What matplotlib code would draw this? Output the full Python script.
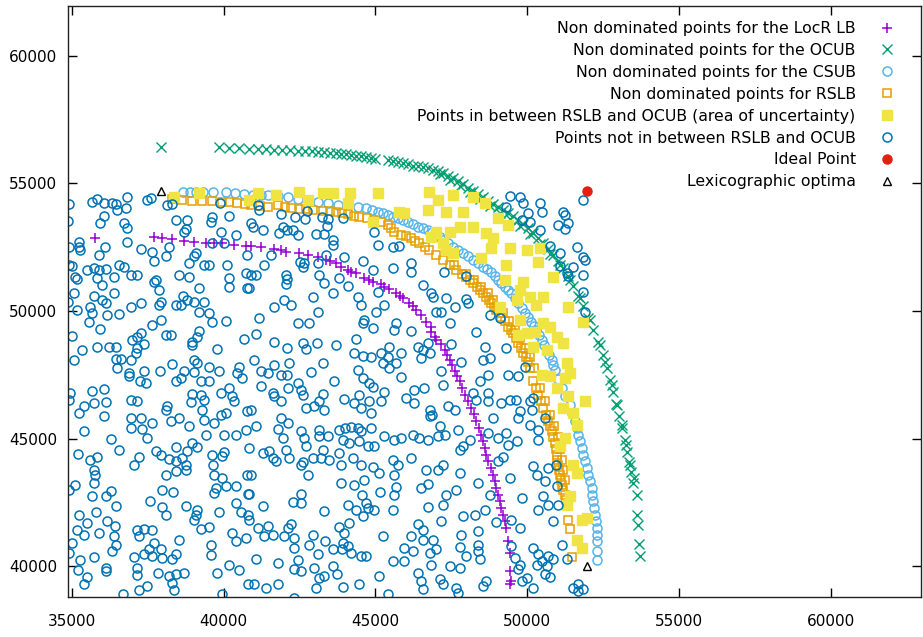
import matplotlib.pyplot as plt

# Non dominated points for the LocR lower bound
locr = [(35752, 52875), (37698, 52890), (37975, 52851), (38305, 52812), (38687, 52757), (39017, 52718),
        (39403, 52679), (39677, 52679), (39954, 52655), (40336, 52589), (40722, 52550), (40897, 52550),
        (41227, 52499), (41669, 52421), (41886, 52393), (42051, 52327), (42493, 52287), (42767, 52197),
        (43097, 52107), (43370, 52002), (43500, 51950), (43700, 51872), (43865, 51739), (44086, 51610),
        (44200, 51550), (44360, 51481), (44637, 51285), (44800, 51200), (44911, 51152), (45184, 51062),
        (45300, 50950), (45461, 50855), (45679, 50698), (45800, 50600), (45900, 50502), (46121, 50306),
        (46230, 50180), (46339, 50044), (46503, 49848), (46668, 49586), (46846, 49390), (46833, 49195),
        (46950, 49000), (47011, 48870), (47150, 48700), (47285, 48478), (47370, 48280), (47450, 48087),
        (47530, 47870), (47615, 47644), (47700, 47450), (47780, 47253), (47860, 46980), (47945, 46728),
        (48050, 46470), (48166, 46207), (48250, 45950), (48331, 45687), (48410, 45420), (48496, 45162),
        (48550, 44900), (48604, 44641), (48660, 44380), (48713, 44121), (48800, 43860), (48878, 43596),
        (48930, 43330), (48990, 43075), (49050, 42800), (49099, 42555), (49150, 42290), (49208, 42030),
        (49260, 41770), (49320, 41509), (49373, 40989), (49429, 40531), (49429, 39814), (49485, 39423),
        (49429, 39290)]

# Non dominated points for the OCUB
ocub = [(37919, 56437), (39841, 56437), (40171, 56375), (40501, 56375), (40821, 56367), (41118, 56347),
        (41382, 56347), (41645, 56328), (41909, 56308), (42173, 56308), (42437, 56289), (42668, 56269),
        (42899, 56269), (43097, 56249), (43294, 56230), (43492, 56210), (43690, 56191), (43855, 56171),
        (44020, 56152), (44185, 56112), (44350, 56093), (44515, 56073), (44680, 56034), (44845, 55995),
        (44976, 55956), (45405, 55917), (45570, 55878), (45735, 55838), (45900, 55799), (46065, 55760),
        (46230, 55701), (46395, 55682), (46560, 55643), (46724, 55603), (46889, 55545), (47054, 55486),
        (47219, 55408), (47384, 55310), (47549, 55212), (47714, 55095), (47879, 54977), (48044, 54840),
        (48208, 54703), (48373, 54586), (48538, 54449), (48703, 54312), (48868, 54194), (49033, 54077),
        (49198, 53940), (49363, 53842), (49528, 53724), (49693, 53568), (49858, 53411), (50022, 53255),
        (50187, 53059), (50352, 52863), (50517, 52667), (50682, 52432), (50847, 52197), (51012, 51962),
        (51177, 51688), (51342, 51375), (51506, 50984), (51671, 50592), (51836, 50201), (52001, 49731),
        (52166, 49261), (52331, 48791), (52496, 48282), (52628, 47773), (52727, 47304), (52826, 46834),
        (52925, 46364), (53024, 45894), (53123, 45424), (53222, 44955), (53288, 44485), (53354, 44093),
        (53420, 43702), (53485, 43271), (53607, 42813), (53607, 42030), (53660, 41639), (53693, 40883),
        (53716, 40402),
        (47120, 55369), (47450, 55134), (47780, 54899), (48110, 54664), (48439, 54390), (48769, 54116),
        (49099, 53842), (49429, 53607), (49759, 53333), (50088, 53020), (50418, 52628), (50748, 52237),
        (51078, 51806), (51408, 51219), (51737, 50514), (52067, 49653), (52397, 48674), (52562, 48008),
        (52793, 47108), (52958, 46325), (53123, 45542), (53254, 44759), (53386, 43976), (53518, 43467)]

# Non dominated points for the CSUB
csub = [(38644, 54676), (38875, 54676), (39073, 54676), (39304, 54676), (39634, 54676), (40063, 54676),
        (40359, 54644), (40656, 54605), (40953, 54546), (41217, 54546), (41448, 54546), (41777, 54507),
        (42107, 54480), (42437, 54409), (42823, 54351), (43097, 54284), (43426, 54221), (43756, 54155),
        (44086, 54221), (44416, 54088), (44690, 54026), (44878, 53959), (45075, 53893), (45240, 53830),
        (45405, 53763), (45570, 53697), (45735, 53634), (45900, 53568), (46065, 53501), (46230, 53411),
        (46395, 53306), (46560, 53242), (46725, 53176), (46857, 53098), (47011, 52980), (47120, 52882),
        (47229, 52785), (47384, 52667), (47559, 52522), (47714, 52393), (47889, 52264), (48044, 52139),
        (48219, 52002), (48374, 51884), (48548, 51739), (48687, 51649), (48825, 51544), (48934, 51375),
        (49043, 51219), (49155, 51089), (49264, 50956), (49373, 50827), (49485, 50698), (49594, 50514),
        (49703, 50306), (49815, 50111), (49924, 49915), (50033, 49751), (50144, 49586), (50220, 49418),
        (50309, 49261), (50385, 49065), (50474, 48870), (50550, 48674), (50639, 48478), (50715, 48282),
        (50804, 48087), (50857, 47871), (50913, 47695), (51012, 47343), (51134, 46990), (51243, 46677),
        (51408, 46336), (51490, 46012), (51573, 45687), (51629, 45425), (51682, 45162), (51738, 44904),
        (51794, 44641), (51847, 44379), (51903, 44121), (51959, 43858), (52012, 43596), (52068, 43338),
        (52124, 43075), (52150, 42813), (52176, 42555), (52199, 42292), (52232, 42030), (52265, 41771),
        (52288, 41509), (52288, 41235), (52288, 40989), (52288, 40597), (52308, 40268)]

# Non dominated points for RSLB
rslb = [(38305, 54378), (38611, 54351), (38964, 54323), (39294, 54323), (39624, 54323), (39930, 54292),
        (40161, 54272), (40448, 54245), (40689, 54194), (40897, 54155), (41184, 54116), (41448, 54088),
        (41777, 54155), (42008, 54076), (42216, 54026), (42503, 53998), (42701, 53979), (42932, 53959),
        (43262, 53932), (43492, 53920), (43700, 53893), (43888, 53842), (44086, 53803), (44284, 53724),
        (44472, 53673), (44712, 53627), (44966, 53568), (45174, 53489), (45405, 53372), (45504, 53254),
        (45626, 53110), (45844, 52980), (45999, 52922), (46173, 52851), (46296, 52746), (46451, 52655),
        (46626, 52511), (46781, 52393), (46989, 52197), (47229, 51998), (47450, 51806), (47671, 51610),
        (47846, 51454), (48001, 51348), (48110, 51219), (48219, 51089), (48340, 50944), (48439, 50827),
        (48538, 50710), (48660, 50565), (48736, 50436), (48825, 50307), (48901, 50162), (48990, 50044),
        (49066, 49927), (49155, 49782), (49264, 49614), (49373, 49391), (49462, 49261), (49538, 49132),
        (49627, 48948), (49703, 48740), (49792, 48556), (49868, 48349), (49957, 48204), (50033, 48020),
        (50088, 47774), (50197, 47253), (50286, 46990), (50362, 46728), (50451, 46481), (50527, 46208),
        (50616, 45934), (50692, 45687), (50748, 45503), (50804, 45295), (50863, 45072), (50913, 44837),
        (50946, 44602), (50969, 44379), (50996, 44171), (51022, 43988), (51045, 43780), (51078, 43596),
        (51111, 43389), (51134, 43205), (51177, 42997), (51243, 42813), (51276, 42605), (51299, 42421),
        (51352, 41834), (51408, 41458), (51464, 40362),
        (47600, 51806), (47996, 51454), (48260, 51219), (48490, 50944), (48700, 50710), (48886, 50436),
        (49051, 50162), (49216, 49927), (49414, 49614), (49612, 49261), (49777, 48948), (49942, 48556),
        (50107, 48204), (50238, 47774), (50436, 46990), (50601, 46481), (50766, 45934), (50898, 45503),
        (51013, 45072), (51096, 44602), (51146, 44171), (51195, 43780), (51261, 43389)]

# Points in between RSLB and OCUB (area of uncertainty)
between = [(38357, 54456), (39182, 54636), (40831, 54351), (41118, 54613), (41721, 54546), (42493, 54676),
           (42767, 54351), (43271, 54613), (43601, 54613), (44152, 54613), (44086, 54221), (45085, 54613),
           (44911, 53501), (45791, 53893), (45956, 53830), (46780, 54676), (46724, 53959), (47064, 54351),
           (47559, 54546), (48218, 54480), (48604, 54221), (47341, 53893), (47889, 53893), (47780, 53305),
           (48218, 53305), (47450, 53110), (47011, 53110), (46846, 52914), (48660, 53047), (48878, 52851),
           (49043, 53634), (49373, 53372), (48825, 52460), (49429, 52460), (49980, 52393), (50418, 52460),
           (50362, 51935), (48496, 52068), (49320, 51806), (47341, 52393), (47559, 52264), (47229, 52655),
           (50857, 51348), (49867, 51152), (49264, 51219), (49759, 50827), (50088, 50565), (50527, 50565),
           (50309, 50240), (49650, 50436), (49759, 49653), (49980, 49132), (50253, 49195), (50527, 49523),
           (50748, 49390), (50969, 48999), (51187, 48740), (50197, 48607), (50639, 48478), (51299, 47957),
           (51351, 50173), (51846, 49586), (49099, 50173), (49703, 49065), (50474, 47511), (50748, 47448),
           (51243, 47382), (51408, 47578), (50969, 46990), (51351, 46666), (51902, 46470), (51187, 46207),
           (51516, 46012), (51629, 45554), (51243, 45033), (51078, 44708), (51516, 43988), (51629, 43663),
           (51408, 42751), (51299, 42422), (51793, 41834), (51958, 41901), (51629, 41051), (51793, 40726)]

# Points not in between RSLB and OCUB
outside = [
    (36491, 47770), (36876, 47577), (36876, 47447), (37371, 47643), (37228, 47251), (37426, 47186),
    (37888, 47669), (38416, 47251), (38581, 47382), (38691, 47643), (39021, 47616), (39241, 47251),
    (39516, 47251), (39846, 47669), (40451, 47577), (40616, 47382), (34951, 46794), (34896, 46533),
    (35666, 46860), (36051, 46964), (35391, 46272), (35721, 46403), (36106, 46442), (35248, 46011),
    (36051, 45881), (36931, 46533), (37151, 46468), (36931, 45816), (37261, 45816), (36931, 45424),
    (37316, 45398), (37481, 45033), (37646, 45620), (38141, 46272), (38086, 46142), (38251, 45685),
    (38526, 45816), (38856, 45489), (38966, 46755), (39241, 46729), (39351, 46533), (38911, 46429),
    (39296, 46142), (39351, 45750), (39681, 45620), (39901, 46794), (40176, 46990), (40286, 46664),
    (40341, 46468), (39901, 45946), (40066, 46011), (40011, 45163), (39406, 45163), (40396, 45163),
    (40726, 45359), (40781, 46077), (35391, 45294), (36271, 45006), (36546, 44576), (35204, 44406),
    (35611, 44184), (35831, 44276), (35721, 43793), (35754, 43597), (35721, 43271), (35116, 43206),
    (34896, 43010), (35666, 42749), (36106, 42749), (36271, 42971), (36436, 42357), (35248, 42031),
    (35798, 42135), (35501, 41705), (35171, 41444), (35391, 41248), (35006, 40922), (34896, 40530),
    (35281, 40230), (35204, 39852), (35501, 39578), (35391, 39291), (35886, 41313), (36414, 41600),
    (36161, 41770), (36381, 41183), (36436, 40856), (36326, 40596), (35721, 40360), (36128, 39943),
    (36128, 39813), (37206, 44276), (37041, 43989), (37756, 44511), (37921, 44354), (38196, 44223),
    (38086, 43571), (38416, 43728), (38416, 44119), (38636, 44250), (38801, 44511), (38966, 44837),
    (39131, 44680), (38416, 44667), (38746, 43989), (38768, 43793), (37976, 43010), (38328, 42918),
    (37558, 42579), (37976, 42318), (38086, 42031), (38746, 42383), (39131, 42227), (39076, 42031),
    (39021, 41835), (39241, 41483), (39516, 41535), (39846, 42135), (39604, 44354), (39648, 43962),
    (39956, 44315), (40011, 44484), (39681, 43597), (39956, 43467), (40066, 43140), (39736, 43075),
    (39681, 42879), (40396, 43140), (40781, 43597), (40814, 42840), (40396, 42488), (40561, 42135),
    (40814, 42031), (40286, 41313), (40396, 40987), (40726, 41092), (39571, 40856), (39571, 40439),
    (40176, 40048), (40506, 39852), (39791, 39747), (40814, 39291), (37151, 41444), (37371, 41483),
    (37624, 41418), (37206, 41183), (37701, 40922), (37536, 40661), (37371, 40491), (37921, 40661),
    (37976, 40334), (37646, 40400), (37041, 40360), (38526, 41026), (38416, 40465), (38306, 40269),
    (37151, 39943), (37151, 39643), (37844, 39747), (38196, 39617), (38416, 39708), (38691, 39734),
    (38306, 39356), (38361, 39056), (37481, 39226), (37206, 39056), (36678, 38899), (39956, 38899),
    (34918, 54194), (35666, 54286), (35831, 54377), (36051, 54221), (36326, 54247), (36458, 54194),
    (36491, 53960), (36821, 54455), (36766, 54025), (37481, 54351), (37591, 54416), (38141, 54155),
    (38306, 54181), (38416, 53568), (38801, 53568), (38746, 53203), (38691, 53111), (39626, 53672),
    (39571, 53503), (39868, 54221), (40176, 53725), (34874, 53529), (35941, 53464), (36051, 53725),
    (36711, 53438), (36821, 53242), (36821, 52720), (39901, 53111), (40396, 52981), (35226, 52720),
    (35281, 52394), (34896, 52524), (35226, 52524), (36084, 52524), (35886, 52198), (37261, 52420),
    (37646, 52328), (37701, 51976), (38086, 52159), (38196, 52524), (39076, 52263), (39021, 52159),
    (38856, 51898), (39351, 51806), (39516, 51806), (39626, 52681), (40011, 52681), (40781, 52198),
    (34896, 51806), (35006, 51767), (35116, 51350), (35171, 51245), (35501, 51611), (35721, 51676),
    (35886, 51611), (36106, 51637), (35831, 51284), (35996, 51023), (36546, 51806), (36711, 51715),
    (36381, 51350), (36931, 51415), (37151, 51415), (37756, 51219), (37701, 51154), (37866, 50827),
    (38526, 51415), (38856, 51323), (39186, 50893), (40121, 51806), (40176, 51284), (40176, 50932),
    (40726, 51480), (40781, 50893), (35061, 50697), (34874, 50371), (35721, 50593), (35996, 50436),
    (36106, 50332), (36381, 50697), (35611, 50175), (35666, 49914), (35171, 50045), (35556, 49588),
    (36161, 49849), (36546, 49888), (36931, 50175), (37261, 50332), (37921, 50371), (37866, 50240),
    (37921, 49653), (38416, 50240), (38581, 50240), (38658, 50593), (38801, 50436), (39021, 50371),
    (39351, 50371), (39186, 49979), (39516, 49914), (39626, 49588), (40066, 49614), (37646, 49457),
    (35941, 49288), (35006, 49027), (35336, 48479), (35831, 48583), (36216, 48583), (36436, 48609),
    (36986, 48870), (37151, 49001), (37261, 49131), (37371, 48713), (37151, 48544), (37096, 48348),
    (36931, 48087), (38086, 49066), (38251, 49066), (38966, 48805), (38966, 48674), (39131, 49001),
    (39186, 49236), (39791, 48505), (40671, 48896), (35061, 48087), (36436, 48113), (36601, 48113),
    (38306, 47930), (39021, 48087), (39131, 47956), (39516, 47826), (40506, 47826),
    (41118, 54155), (41173, 53960), (41888, 53803), (42350, 53672), (42680, 53620), (42746, 53933),
    (43230, 53672), (43450, 53594), (43406, 53333), (43923, 53633), (43043, 53020), (43318, 53020),
    (43593, 52785), (43593, 52589), (44968, 53111), (45078, 52589), (45573, 52498), (45793, 52550),
    (43956, 52106), (44583, 51976), (44913, 51611), (45573, 51676), (46178, 51898), (46178, 51545),
    (46563, 51023), (40898, 53438), (40953, 53281), (41283, 53177), (41943, 53281), (42086, 53177),
    (42273, 53177), (42438, 52981), (41833, 53072), (41558, 52198), (41338, 51806), (42526, 51937),
    (42658, 51872), (42603, 51741), (43098, 51898), (43153, 51415), (43373, 52198), (40898, 51415),
    (41063, 51415), (40843, 50893), (42053, 51415), (42086, 51245), (42053, 51063), (43296, 51115),
    (43813, 51284), (44088, 50984), (45298, 50240), (45078, 50762), (44418, 50567), (44528, 50240),
    (44638, 49653), (44583, 49549), (44913, 49327), (45023, 49979), (45683, 49549), (45628, 49262),
    (46178, 49236), (41668, 50175), (41998, 50436), (42218, 50240), (42933, 50541), (43098, 49979),
    (43593, 50697), (41173, 49718), (41063, 49105), (41668, 48805), (42086, 48544), (42438, 49523),
    (42823, 49549), (42603, 48766), (42713, 48505), (43076, 48740), (43703, 48674), (44363, 48896),
    (44308, 48374), (44583, 48244), (44858, 48218), (45188, 48374), (45463, 48609), (45408, 48218),
    (45848, 48348), (46398, 48609), (46563, 48479), (46728, 48740), (41008, 48087), (41668, 47891),
    (42163, 47956), (43263, 47982), (44418, 47696), (45243, 47956), (45683, 47982), (46508, 48152),
    (46783, 48348),
    (41228, 47669), (41448, 47577), (41888, 47512), (42086, 47486), (42878, 47616), (43648, 47251),
    (44583, 47382), (44803, 47186), (44913, 47016), (45463, 47773), (45848, 47408), (46618, 46990),
    (46288, 46925), (41228, 47055), (41613, 46794), (41668, 46664), (41888, 46468), (42108, 46990),
    (42438, 47186), (42548, 46925), (42603, 46703), (42713, 46207), (42988, 46272), (43153, 46468),
    (43263, 46755), (43318, 46142), (43956, 46572), (44308, 46403), (44473, 46729), (44528, 46207),
    (44803, 46468), (44858, 46011), (45188, 46468), (45298, 46833), (46013, 46599), (46288, 46403),
    (46783, 46142), (46783, 45881), (40898, 46142), (41063, 45489), (41800, 45398), (41888, 45816),
    (42108, 45620), (41943, 45033), (42548, 45294), (42658, 45033), (42713, 44706), (43153, 45359),
    (43153, 45098), (43428, 45098), (43813, 45359), (44000, 45424), (44198, 45450), (44418, 45424),
    (44528, 45294), (43923, 44967), (44143, 44837), (44473, 44902), (44748, 44706), (44946, 44706),
    (44858, 45424), (45298, 45098), (45628, 44967), (45848, 45033), (46233, 45163), (46453, 45033),
    (46728, 44967), (40843, 44641), (41283, 44445), (41503, 44511), (41613, 44250), (41723, 44119),
    (42053, 44576), (42163, 44250), (42548, 43989), (42603, 44093), (42768, 43571), (42933, 44250),
    (43263, 44576), (43208, 44250), (43483, 44184), (43813, 44445), (43868, 43989), (44253, 44250),
    (44528, 43962), (44638, 43401), (44913, 43884), (45133, 43662), (45573, 44184), (45738, 43989),
    (46178, 44250), (45628, 43571), (46673, 43793), (40898, 43571), (40843, 42840), (41283, 42357),
    (42273, 42527), (42548, 42840), (42548, 42488), (43296, 42188), (43868, 43271), (44308, 43206),
    (44550, 42814), (44088, 42423), (44363, 42227), (44693, 42488), (44748, 42292), (44583, 41966),
    (44968, 42227), (45166, 42918), (45628, 42814), (45683, 43101), (45573, 42227), (46508, 43075),
    (46728, 43232), (46728, 42318), (40843, 41835), (41118, 41509), (41338, 41183), (41448, 41574),
    (41613, 41248), (41998, 41183), (42108, 41509), (42218, 41640), (42328, 41118), (42328, 40726),
    (42823, 40856), (42933, 41248), (43098, 40491), (43340, 41013), (43593, 40661), (43813, 41535),
    (43978, 41313), (43923, 40922), (43890, 40661), (44088, 40791), (44143, 41705), (44198, 40530),
    (44528, 40400), (44693, 40400), (45243, 41183), (45936, 40726), (46233, 40596), (46178, 41183),
    (46398, 41640), (46563, 41444), (46563, 41052), (46783, 40530), (41063, 40269), (41778, 40139),
    (42438, 40230), (42328, 39878), (42548, 39813), (42988, 39943), (43153, 39552), (43318, 39617),
    (43593, 40008), (43736, 39682), (43043, 39160), (43923, 39186), (44473, 39317), (45133, 39617),
    (45573, 40204), (45958, 40204), (46398, 39747), (46508, 39421), (41008, 39291), (41393, 39160),
    (41778, 39291), (42328, 38769), (46563, 39095), (45408, 38899),
    (47175, 47643), (47230, 47121), (46878, 45920), (47395, 46272), (47615, 46142), (48220, 46794),
    (48440, 47251), (48715, 47512), (48330, 46533), (48715, 46794), (48715, 46468), (49155, 46403),
    (49430, 46533), (49628, 46533), (49760, 46077), (49705, 45816), (50090, 46468), (50200, 46599),
    (50145, 46142), (49375, 47512), (49705, 47447), (47120, 45489), (47065, 45098), (47285, 45163),
    (47725, 45359), (47890, 44706), (48110, 44967), (47780, 44576), (48715, 45228), (48880, 45816),
    (49045, 45033), (49320, 45228), (49375, 44772), (49650, 44902), (50090, 45554), (50365, 45359),
    (50365, 44967), (50585, 45816), (47230, 43989), (47065, 43793), (47780, 43662), (48385, 43271),
    (49045, 44145), (49210, 44276), (48770, 42814), (47670, 43010), (47340, 42814), (47230, 42423),
    (47175, 41796), (49430, 43467), (49815, 42684), (50200, 43923), (50310, 43597), (50585, 43336),
    (50695, 43858), (50948, 43989), (50970, 43140), (50530, 42749), (50365, 42227), (50695, 42423),
    (51025, 42423), (50860, 41770), (47890, 41966), (48275, 42031), (48605, 42227), (48968, 41744),
    (49485, 41835), (49760, 41509), (46900, 41052), (47010, 40661), (46845, 40073), (47835, 41248),
    (47802, 40752), (48385, 41379), (48385, 40856), (48385, 40596), (48440, 40269), (47450, 40008),
    (48000, 40400), (47780, 39943), (47120, 39486), (47230, 39291), (47670, 39160), (47725, 38964),
    (48660, 39421), (48550, 39226), (49485, 40791), (49595, 40334), (49760, 40073), (50200, 40726),
    (50365, 40465), (50310, 40073), (50475, 40204), (50695, 40400), (50640, 40008), (50750, 39578),
    (50860, 40269), (51135, 40856), (51300, 40269), (49705, 39878), (49815, 39421), (50002, 39552),
    (50585, 39682), (50200, 39160), (51520, 39160), (51685, 39291), (51685, 39030), (51850, 39095),
    (49430, 54508), (49760, 54482), (49870, 54221), (50420, 54221), (50475, 53894), (50035, 53855),
    (50090, 53503), (49815, 53568), (49320, 54090), (50420, 53177), (51025, 53372), (51190, 53894),
    (51245, 53764), (51355, 53438), (51245, 53203), (51850, 54351), (50750, 52550), (51080, 52263),
    (51630, 52498), (51850, 52133), (51905, 52002), (51520, 51715), (51300, 51480), (51080, 51767),
    (51355, 51376), (51850, 51415), (51850, 50762), (51905, 49979), (47252, 51545), (48000, 51376),
    (46845, 50697), (46900, 50567), (47340, 50501), (47615, 50175), (47010, 49979), (47175, 49979),
    (48000, 50462), (48055, 50332), (47450, 49523), (48330, 49197), (48770, 49849), (49100, 49718),
    (47505, 48713), (47835, 48022), (48605, 48609), (48550, 48087), (48770, 48152), (49320, 48544),
    (49925, 47826)]

ideal_x = [51970]
ideal_y = [54700]
lex_x = [37950, 51970]
lex_y = [54700, 40020]


def xs(pts):
    return [p[0] for p in pts]


def ys(pts):
    return [p[1] for p in pts]


fig = plt.figure(figsize=(9.23, 6.37), dpi=100)
ax = fig.add_axes([68 / 923, 40 / 637, 853 / 923, 591 / 637])

ax.plot(xs(locr), ys(locr), ls='none', marker='+', ms=7.5, mew=1.1, color='#9400D3',
        label='Non dominated points for the LocR LB')
ax.plot(xs(ocub), ys(ocub), ls='none', marker='x', ms=6.5, mew=1.0, color='#009E73',
        label='Non dominated points for the OCUB')
ax.plot(xs(csub), ys(csub), ls='none', marker='o', ms=6.5, mfc='none', mec='#56B4E9', mew=1.1,
        label='Non dominated points for the CSUB')
ax.plot(xs(rslb), ys(rslb), ls='none', marker='s', ms=6.2, mfc='none', mec='#E69F00', mew=1.1,
        label='Non dominated points for RSLB')
ax.plot(xs(between), ys(between), ls='none', marker='s', ms=7.5, mfc='#F0E442', mec='#F0E442',
        label='Points in between RSLB and OCUB (area of uncertainty)')
ax.plot(xs(outside), ys(outside), ls='none', marker='o', ms=6.5, mfc='none', mec='#0072B2', mew=1.1,
        label='Points not in between RSLB and OCUB')
ax.plot(ideal_x, ideal_y, ls='none', marker='o', ms=6.5, color='#E51E10', label='Ideal Point')
ax.plot(lex_x, lex_y, ls='none', marker='^', ms=5.5, mfc='none', mec='black', mew=1.0,
        label='Lexicographic optima')

ax.set_xlim(34870, 62980)
ax.set_ylim(38800, 61950)
ax.set_xticks([35000, 40000, 45000, 50000, 55000, 60000])
ax.set_yticks([40000, 45000, 50000, 55000, 60000])
ax.tick_params(direction='in', length=6.5, width=1, top=True, right=True, labelsize=11)
ax.tick_params(axis='y', pad=8)
ax.tick_params(axis='x', pad=12)
for sp in ax.spines.values():
    sp.set_linewidth(1)
    sp.set_color('#222222')

ax.legend(loc='upper right', bbox_to_anchor=(0.9695, 0.9746), markerfirst=False, frameon=False,
          numpoints=1, fontsize=11.3, handlelength=1.0, handletextpad=1.5, labelspacing=0.44,
          borderpad=0, borderaxespad=0)

fig.savefig('out.png', dpi=100)
